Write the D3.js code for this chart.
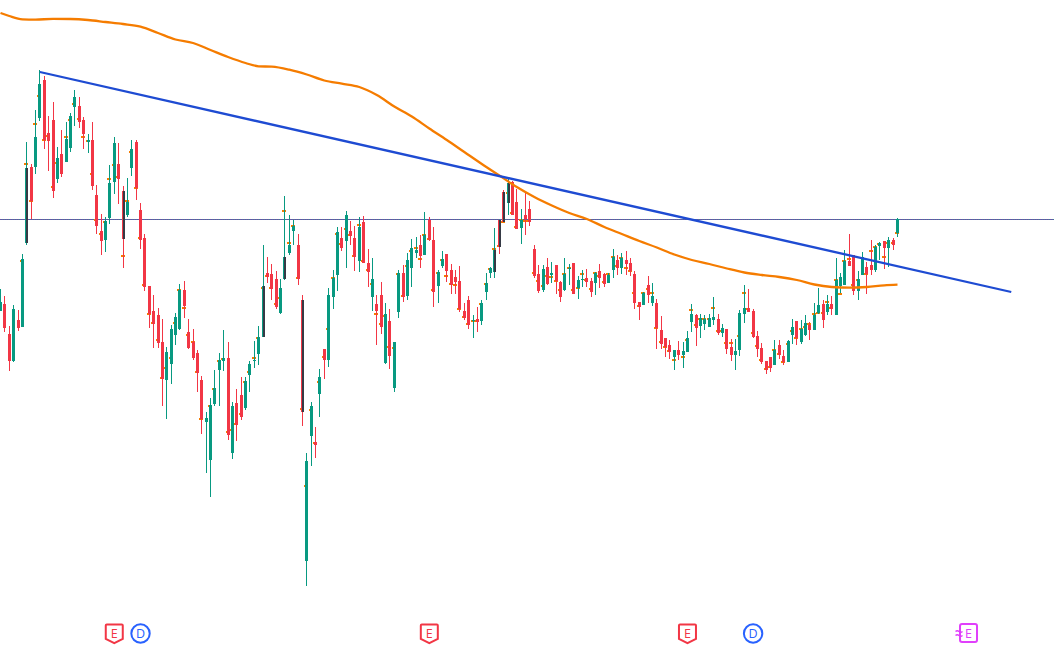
<!DOCTYPE html>
<html>
<head>
<meta charset="utf-8">
<style>
  html, body { margin: 0; padding: 0; background: #ffffff; }
  svg { display: block; }
  text { font-family: "Open Sans", Roboto, sans-serif; }
</style>
<script src="https://cdn.jsdelivr.net/npm/d3@7/dist/d3.min.js"></script>
</head>
<body>
<div id="chart"></div>
<script>
// Daily candles, one entry per session
const opens = [34.3,35.0,32.0,29.3,33.4,32.7,41.1,48.7,48.7,53.6,57.4,52.1,53.4,47.5,50.0,49.2,50.6,54.7,54.8,53.4,51.2,51.4,45.9,42.3,41.4,43.6,47.2,49.0,46.3,43.9,48.6,51.2,44.4,41.6,36.8,34.3,33.9,31.2,27.4,29.0,31.9,32.5,36.4,32.2,31.2,30.1,27.4,23.2,19.4,25.0,28.4,29.3,29.6,20.1,25.1,25.9,24.6,27.9,29.3,30.0,31.7,38.1,38.0,37.5,34.1,37.5,40.1,42.3,40.9,35.4,9.3,21.8,21.2,26.0,30.5,29.4,35.7,37.9,41.6,41.3,42.3,41.6,39.3,43.2,39.1,35.7,35.0,35.9,29.1,33.3,26.6,34.2,38.1,35.8,38.6,40.1,40.9,39.9,43.4,41.4,36.8,38.8,40.0,38.4,37.7,37.3,34.3,35.4,33.3,33.5,33.3,36.2,38.1,38.2,43.4,46.2,45.1,47.2,45.2,42.6,43.9,44.5,40.5,38.0,36.4,38.7,37.9,38.9,37.2,36.4,38.5,39.1,36.6,37.4,37.6,37.3,37.1,38.3,38.0,37.1,38.4,39.4,38.6,39.4,39.1,38.0,35.2,34.9,36.9,35.1,35.1,32.4,31.6,30.9,29.7,30.4,29.9,30.2,33.2,33.9,32.8,33.0,32.7,33.4,33.5,32.1,32.5,30.7,29.9,30.4,34.0,34.6,34.3,31.8,30.6,29.3,29.7,28.9,30.9,29.8,29.2,31.9,33.3,31.2,31.9,32.9,32.4,34.1,35.0,34.2,35.0,33.9,36.8,36.9,39.3,39.9,36.3,37.9,38.7,38.9,38.4,40.8,41.3,40.6,41.4,42.1];
const highs = [36.5,35.8,32.8,34.9,34.4,40.0,51.2,49.0,54.4,58.4,57.8,53.8,55.2,50.7,52.4,53.2,54.1,56.4,55.7,53.7,52.0,53.2,46.9,44.0,43.7,48.9,51.7,51.1,46.8,47.6,51.4,51.4,45.1,42.0,36.8,35.9,34.6,33.5,30.7,32.9,34.1,37.0,37.3,33.5,32.5,30.4,27.8,24.2,25.6,28.4,30.1,32.4,31.2,25.2,26.5,27.7,27.7,29.3,31.3,32.8,40.9,39.7,39.0,38.3,37.5,45.8,43.9,43.4,42.0,35.9,20.1,25.2,22.7,28.5,30.5,36.6,38.4,42.7,42.7,44.3,43.3,42.8,43.7,43.8,40.5,39.6,35.9,37.2,35.1,34.5,31.2,38.4,38.9,40.1,41.5,41.7,41.9,44.2,43.7,42.7,38.4,40.3,40.0,39.0,38.4,38.8,35.1,35.8,33.9,34.7,35.4,38.1,38.7,42.6,43.4,46.4,47.6,47.3,46.5,44.5,46.1,45.3,40.9,38.9,38.9,39.6,39.2,38.9,37.3,39.6,39.0,39.1,37.8,38.4,38.5,37.6,38.2,39.0,38.1,38.1,40.5,39.9,40.1,40.3,39.6,38.3,35.2,36.2,37.8,37.1,35.5,33.8,31.6,31.4,30.4,31.3,31.2,32.3,35.0,34.0,34.0,33.9,34.0,35.7,34.0,33.0,32.5,31.5,31.5,34.4,36.9,36.5,34.5,32.3,31.1,29.3,29.7,31.4,31.4,30.4,31.4,33.5,33.3,33.4,33.9,33.2,35.1,36.6,35.4,35.9,35.8,39.6,38.1,40.4,42.0,39.9,38.3,40.2,39.2,41.4,40.9,41.2,41.3,41.7,41.6,43.6];
const lows = [34.3,32.2,28.3,29.2,32.3,32.7,40.9,43.5,48.0,53.3,50.5,48.3,45.6,47.1,47.7,49.2,50.2,52.8,52.6,50.5,50.1,46.4,42.0,39.9,40.2,43.0,46.0,45.0,38.6,43.7,47.8,45.4,40.5,36.3,32.6,30.6,30.6,24.8,23.5,27.0,30.9,32.4,33.6,30.5,29.4,26.2,22.0,18.1,15.7,24.8,24.8,28.3,21.4,19.5,21.3,23.4,24.4,26.2,28.6,28.9,31.7,37.1,35.4,34.5,34.0,37.4,39.9,40.9,36.9,22.8,6.8,18.8,19.6,23.7,27.5,28.7,34.5,36.3,40.3,38.6,40.9,38.3,38.2,39.1,36.7,34.3,30.9,32.0,29.0,28.5,26.2,33.6,35.2,35.4,36.7,39.6,38.6,39.9,41.3,34.7,35.1,38.6,37.2,36.0,36.0,34.2,33.4,32.5,31.6,32.2,32.9,35.4,37.6,37.6,40.0,43.2,43.9,43.9,42.5,41.0,41.9,42.8,37.6,36.1,36.2,36.9,37.1,36.0,35.2,36.3,36.9,36.0,35.5,36.7,36.7,35.7,35.9,36.6,36.7,37.1,37.6,37.9,38.0,37.9,37.8,34.5,33.4,34.9,35.1,34.8,30.5,30.5,29.7,29.5,28.4,29.4,28.6,30.2,32.2,30.8,31.6,32.4,32.7,32.9,31.9,31.7,30.0,29.3,28.4,29.8,33.1,34.2,31.6,29.7,29.0,28.0,28.2,28.9,29.5,28.9,29.2,31.0,30.9,31.0,31.8,31.4,32.4,34.0,32.6,33.9,33.9,33.9,36.1,36.9,38.8,35.9,35.4,37.9,36.0,37.9,38.2,39.4,38.5,38.7,40.4,41.7];
const closes = [35.2,32.6,29.3,34.5,32.6,39.5,48.6,45.3,51.7,57.0,51.4,51.3,46.3,49.6,48.0,51.5,53.8,55.7,53.2,52.0,51.4,46.8,42.8,41.3,43.3,47.1,51.1,47.5,41.5,45.2,50.5,46.6,41.4,36.7,34.0,33.0,31.1,27.5,30.2,32.5,33.7,36.4,34.8,30.6,29.6,28.1,23.5,23.6,24.9,26.6,29.4,29.6,21.9,24.8,22.9,23.7,27.3,29.0,29.4,31.7,36.8,37.7,36.5,34.7,36.6,39.7,40.9,42.8,37.5,24.2,19.3,24.8,20.9,27.7,29.4,35.9,37.6,42.2,40.6,43.9,41.8,39.7,42.7,39.1,38.2,37.5,34.3,32.7,34.0,29.8,31.2,38.1,35.7,39.4,40.6,40.4,39.8,41.9,41.4,36.2,38.2,39.5,38.3,36.9,37.2,34.5,33.6,32.9,33.4,33.2,35.1,37.1,38.6,40.4,40.7,43.2,47.1,43.9,42.5,43.4,43.5,43.2,37.8,36.3,38.5,37.0,38.1,37.3,35.7,38.0,38.6,36.0,37.4,37.5,37.2,36.2,38.1,37.6,37.0,37.9,39.7,38.6,39.6,39.0,38.3,35.1,34.7,36.1,35.9,35.8,32.6,31.0,30.7,30.2,30.4,29.9,30.3,31.6,34.0,32.6,33.6,33.5,33.6,33.7,32.1,32.6,30.5,29.9,30.3,34.1,34.6,34.2,31.7,30.5,29.2,28.4,28.6,30.4,29.9,29.2,31.3,32.7,31.6,32.5,33.1,32.4,33.9,34.9,33.4,35.0,34.5,37.4,37.7,39.3,38.8,36.3,37.5,39.7,38.0,38.4,40.7,41.1,40.6,41.4,40.9,43.5];

// Orange marker printed with each session (null where there is none)
const markers = [35.1,null,null,null,null,39.3,49.0,45.3,53.0,55.8,51.4,51.8,46.7,49.1,null,51.7,53.4,55.0,53.5,51.7,51.3,48.0,43.4,42.0,43.2,47.5,48.9,47.7,39.8,45.3,50.2,46.6,41.6,36.9,34.0,33.1,31.4,27.6,28.6,29.6,33.1,36.4,34.6,31.9,31.2,28.2,23.5,null,24.8,26.5,29.3,29.5,22.2,22.4,23.0,24.0,27.2,28.2,29.6,31.6,36.6,37.8,36.6,35.0,35.6,44.3,41.1,42.8,37.6,24.5,16.8,24.4,21.1,27.2,29.7,32.5,37.6,42.0,41.0,42.5,41.9,39.8,42.9,39.3,38.4,37.0,34.0,33.0,33.8,30.7,30.6,38.0,35.8,38.8,40.3,40.6,39.5,41.9,41.5,36.4,38.1,39.4,37.8,37.0,36.9,34.5,33.7,33.0,33.3,33.3,35.0,37.0,38.5,40.5,40.8,43.2,46.1,44.1,42.7,43.4,43.3,43.3,38.1,37.3,36.8,37.8,37.7,37.3,36.4,38.0,38.6,36.4,36.6,38.0,37.4,36.5,38.1,37.8,37.2,38.0,39.7,38.8,39.6,38.6,38.3,36.1,34.8,36.1,36.5,36.1,32.6,31.2,30.7,30.3,29.4,null,29.7,31.4,34.4,32.9,33.5,33.5,33.5,34.6,32.3,32.3,31.1,31.1,null,31.8,36.1,34.5,32.1,30.8,29.4,28.5,28.7,30.4,30.0,29.2,31.0,32.3,31.6,32.5,32.7,33.0,34.0,34.1,34.1,35.2,34.6,37.4,36.0,39.3,39.5,36.9,37.4,39.6,38.0,40.3,40.7,41.0,39.7,41.1,41.1,42.1];

// Sessions that carry a dark centre stroke
const darkCoreSessions = [6,28,60,65,69,113,114,115,116];

// Long moving average, sampled session / value
const maSessions = [0,2,5,8,12,16,20,24,28,32,36,40,44,48,52,56,59,62,66,70,74,78,82,86,90,94,98,102,106,110,114,118,122,126,130,134,138,142,146,150,154,158,162,166,170,174,178,182,186,190,194,198,202,205];
const maValues = [64.1,63.8,63.47,63.43,63.52,63.5,63.4,63.2,63.0,62.73,62.1,61.45,61.1,60.4,59.7,59.1,58.77,58.73,58.43,57.95,57.35,57.03,56.7,55.9,54.75,53.75,52.55,51.4,50.2,49.0,47.85,46.7,45.7,44.85,44.1,43.5,42.7,42.0,41.3,40.65,39.95,39.4,39.0,38.55,38.15,37.9,37.7,37.4,36.95,36.7,36.63,36.7,36.87,36.93];

// Hand-drawn descending trend line
const trendSessions = [9, 231];
const trendValues = [58.2, 36.2];

const lastPrice = 43.5;

// Earnings and dividend flags along the bottom
const eventSessions = [26, 32, 98, 157, 172, 221];
const eventKinds = ["earnings", "dividend", "earnings", "earnings", "dividend", "upcoming"];

const width = 1054, height = 654;
const upColor = "#089981", downColor = "#F23645", maColor = "#F57C00";
const trendColor = "#1E4BD2", darkColor = "#363A45";

const x = d3.scaleLinear().domain([0, 205]).range([0, 897]);
const y = d3.scaleLinear().domain([0, 65.4]).range([654, 0]);
const col = i => Math.round(x(i));

const svg = d3.select("#chart").append("svg")
  .attr("width", width).attr("height", height);

// Last-price rule: fine two-tone dotted line
const priceRule = svg.append("g");
priceRule.append("line")
  .attr("x1", 0).attr("x2", width)
  .attr("y1", Math.floor(y(lastPrice)) + 0.5).attr("y2", Math.floor(y(lastPrice)) + 0.5)
  .attr("stroke", "#2C8A98").attr("stroke-width", 1);
priceRule.append("line")
  .attr("x1", 0).attr("x2", width)
  .attr("y1", Math.floor(y(lastPrice)) + 0.5).attr("y2", Math.floor(y(lastPrice)) + 0.5)
  .attr("stroke", "#8A3AA8").attr("stroke-width", 1).attr("stroke-dasharray", "1 1");

const sessions = d3.range(opens.length);

// Markers sit beneath the candles
svg.append("g").attr("shape-rendering", "crispEdges")
  .selectAll("rect")
  .data(sessions.filter(i => markers[i] !== null))
  .join("rect")
  .attr("x", i => col(i) - 2)
  .attr("y", i => Math.round(y(markers[i])) - 1)
  .attr("width", 4).attr("height", 2)
  .attr("fill", maColor);

const candles = svg.append("g").attr("shape-rendering", "crispEdges");
const color = i => closes[i] >= opens[i] ? upColor : downColor;

candles.selectAll("rect.wick")
  .data(sessions).join("rect").attr("class", "wick")
  .attr("x", i => col(i))
  .attr("y", i => y(highs[i]))
  .attr("width", 1)
  .attr("height", i => y(lows[i]) - y(highs[i]))
  .attr("fill", color);

candles.selectAll("rect.body")
  .data(sessions).join("rect").attr("class", "body")
  .attr("x", i => col(i) - 1)
  .attr("y", i => y(Math.max(opens[i], closes[i])))
  .attr("width", 3)
  .attr("height", i => Math.max(1, Math.abs(y(opens[i]) - y(closes[i]))))
  .attr("fill", color);

candles.selectAll("rect.core")
  .data(darkCoreSessions).join("rect").attr("class", "core")
  .attr("x", i => col(i))
  .attr("y", i => y(Math.max(opens[i], closes[i])))
  .attr("width", 2)
  .attr("height", i => Math.abs(y(opens[i]) - y(closes[i])))
  .attr("fill", darkColor);

// Moving average, slightly smoothed between its samples
const priceLine = d3.line().x(d => x(d[0]) + 0.5).y(d => y(d[1]));
svg.append("path")
  .datum(maSessions.map((s, k) => [s, maValues[k]]))
  .attr("fill", "none").attr("stroke", maColor).attr("stroke-width", 2.3)
  .attr("stroke-linejoin", "round")
  .attr("d", priceLine.curve(d3.curveMonotoneX));

// Trend line
svg.append("path")
  .datum(trendSessions.map((s, k) => [s, trendValues[k]]))
  .attr("fill", "none").attr("stroke", trendColor).attr("stroke-width", 2.3)
  .attr("d", priceLine.curve(d3.curveLinear));

// Event flags
const flagY = 633.5;
const flags = svg.append("g")
  .selectAll("g")
  .data(eventSessions.map((s, k) => ({ session: s, kind: eventKinds[k] })))
  .join("g")
  .attr("transform", d => `translate(${x(d.session) + 0.5},${flagY})`);

const flagLabel = sel => sel.append("text")
  .attr("text-anchor", "middle").attr("y", 4.6)
  .attr("font-size", 12.5).attr("font-weight", 500)
  .text(d => d.kind === "dividend" ? "D" : "E");

const earnings = flags.filter(d => d.kind === "earnings");
earnings.append("path")
  .attr("d", "M-7.5,-9 H7.5 Q8.5,-9 8.5,-8 V5.5 L0,9.7 L-8.5,5.5 V-8 Q-8.5,-9 -7.5,-9 Z")
  .attr("fill", "#fff").attr("stroke", downColor).attr("stroke-width", 2);
earnings.call(flagLabel).attr("fill", downColor);

const dividend = flags.filter(d => d.kind === "dividend");
dividend.append("circle")
  .attr("r", 9.2).attr("fill", "#fff").attr("stroke", "#2962FF").attr("stroke-width", 2);
dividend.call(flagLabel).attr("fill", "#2962FF");

const upcoming = flags.filter(d => d.kind === "upcoming");
upcoming.append("rect")
  .attr("x", -7.5).attr("y", -9.5).attr("width", 17).attr("height", 18).attr("rx", 2)
  .attr("fill", "#fff").attr("stroke", "#E040FB").attr("stroke-width", 2);
upcoming.append("path")
  .attr("d", "M-12,-2 q1.7,-1.4 3.5,0 t3.5,0 M-12,2 q1.7,-1.4 3.5,0 t3.5,0")
  .attr("fill", "none").attr("stroke", "#E040FB").attr("stroke-width", 1.5);
upcoming.call(flagLabel).attr("fill", "#E040FB");
upcoming.select("text").attr("x", 1);
</script>
</body>
</html>
